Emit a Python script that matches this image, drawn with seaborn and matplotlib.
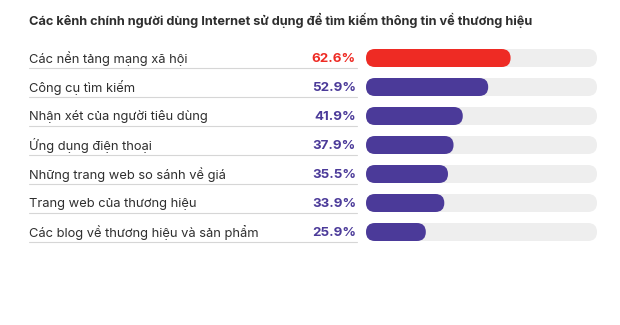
import matplotlib
matplotlib.use("Agg")
import matplotlib.pyplot as plt
import matplotlib.transforms as mtransforms
from matplotlib.patches import FancyBboxPatch
import seaborn as sns
import pandas as pd

title = "Các kênh chính người dùng Internet sử dụng để tìm kiếm thông tin về thương hiệu"
categories = [
    "Các nền tảng mạng xã hội",
    "Công cụ tìm kiếm",
    "Nhận xét của người tiêu dùng",
    "Ứng dụng điện thoại",
    "Những trang web so sánh về giá",
    "Trang web của thương hiệu",
    "Các blog về thương hiệu và sản phẩm",
]
values = [62.6, 52.9, 41.9, 37.9, 35.5, 33.9, 25.9]
track_max = 100

RED = "#ee2b24"
PURPLE = "#4b3a99"
TRACK = "#eeeeee"
TEXT = "#2f2f2f"

colors = [RED] + [PURPLE] * (len(values) - 1)

sns.set_theme(style="white")
plt.rcParams["font.family"] = ["Inter", "DejaVu Sans"]

W, H = 620, 325
fig = plt.figure(figsize=(W / 100, H / 100), dpi=100)
fig.patch.set_facecolor("white")

# bar area in pixels
x0, x1 = 366, 597
row_top, row_step = 58, 29
n = len(categories)
top_px = row_top - row_step / 2
bot_px = row_top + row_step * (n - 1) + row_step / 2
ax = fig.add_axes([x0 / W, 1 - bot_px / H, (x1 - x0) / W, (bot_px - top_px) / H])

df = pd.DataFrame({"cat": categories, "val": values, "track": [track_max] * n})
bar_h = 18 / row_step
sns.barplot(data=df, x="track", y="cat", orient="h", color=TRACK, width=bar_h,
            saturation=1, ax=ax)
sns.barplot(data=df, x="val", y="cat", orient="h", hue="cat", palette=colors,
            legend=False, width=bar_h, saturation=1, ax=ax)
ax.set_xlim(0, track_max)
ax.set_ylim(n - 0.5, -0.5)
ax.axis("off")

# swap rectangles for pill-shaped bars
px_per_x = (x1 - x0) / track_max
px_per_y = row_step
aspect = px_per_x / px_per_y
radius_x = (bar_h * px_per_y / 2) / px_per_x
for p in list(ax.patches):
    bx, by = p.get_x(), p.get_y()
    bw, bh = p.get_width(), p.get_height()
    fc = p.get_facecolor()
    p.remove()
    ax.add_patch(FancyBboxPatch((bx, by), bw, bh,
                                boxstyle=f"round,pad=0,rounding_size={radius_x}",
                                mutation_aspect=aspect, facecolor=fc,
                                edgecolor="none", zorder=2))

# labels, values and separators on the left
tr = mtransforms.blended_transform_factory(fig.transFigure, ax.transData)
lab_x = 29 / W
val_x = 356 / W
for i, (c, v, col) in enumerate(zip(categories, values, colors)):
    ax.text(lab_x, i + 0.02, c, transform=tr, ha="left", va="center",
            fontsize=9.3, color=TEXT, clip_on=False)
    ax.text(val_x, i + 0.02, f"{v:.1f}%", transform=tr, ha="right", va="center",
            fontsize=9.6, fontweight="bold", color=col, clip_on=False)
    ax.plot([lab_x, 357 / W], [i + 0.33, i + 0.33], transform=tr,
            color="#d6d6d6", lw=0.8, clip_on=False)

fig.text(29 / W, 1 - 20 / H, title, ha="left", va="center", fontsize=9.2,
         fontweight="bold", color=TEXT)

fig.savefig("out.png", dpi=100, facecolor="white")
